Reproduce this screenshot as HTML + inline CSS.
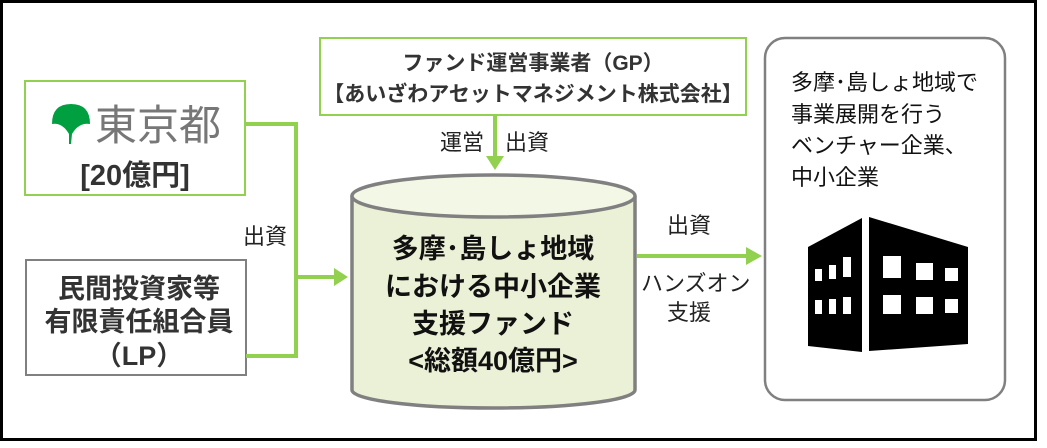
<!DOCTYPE html>
<html><head><meta charset="utf-8"><style>
body{margin:0;background:#fff}
svg text{font-family:"Liberation Sans","Noto Sans CJK JP",sans-serif}
</style></head><body>
<svg width="1047" height="443" viewBox="0 0 1047 443" xmlns="http://www.w3.org/2000/svg">
<rect x="1.5" y="1.5" width="1034" height="438" fill="#fff" stroke="#000" stroke-width="3"/>
<!-- Tokyo box -->
<rect x="25" y="81" width="220" height="114" fill="#fff" stroke="#92d050" stroke-width="2"/>
<path d="M52 124 Q52 104 71 104 Q90 104 90 124 Q79 122 72 134 L71 144 L69 144 L69 134 Q62 122 52 124Z" fill="#00a040"/>
<text x="95" y="140" font-size="42" fill="#777">東京都</text>
<text x="135" y="185" font-size="29" font-weight="bold" fill="#333" text-anchor="middle">[20億円]</text>
<!-- LP box -->
<rect x="26" y="260" width="220" height="115" fill="#fff" stroke="#808080" stroke-width="2"/>
<g font-size="27" font-weight="bold" fill="#333" text-anchor="middle">
<text x="139" y="298">民間投資家等</text>
<text x="139" y="331">有限責任組合員</text>
<text x="139" y="365">（LP）</text>
</g>
<!-- GP box -->
<rect x="320" y="38" width="426" height="77" fill="#fff" stroke="#92d050" stroke-width="2"/>
<g font-size="21" font-weight="bold" fill="#333" text-anchor="middle">
<text x="533" y="70">ファンド運営事業者（GP）</text>
<text x="533" y="101">【あいざわアセットマネジメント株式会社】</text>
</g>
<!-- connectors -->
<g stroke="#92d050" stroke-width="4" fill="none">
<polyline points="245,124 296,124 296,356 246,356"/>
<line x1="296" y1="277" x2="336" y2="277"/>
<line x1="495" y1="115" x2="495" y2="158"/>
<line x1="637" y1="256" x2="748" y2="256"/>
</g>
<g fill="#92d050">
<polygon points="334,268 348,277 334,286"/>
<polygon points="486,156 504,156 495,170"/>
<polygon points="746,247 762,256 746,265"/>
</g>
<g font-size="22" fill="#222">
<text x="243" y="244">出資</text>
<text x="440" y="150">運営</text>
<text x="505" y="150">出資</text>
<text x="667" y="233">出資</text>
<text x="641" y="291">ハンズオン</text>
<text x="667" y="320">支援</text>
</g>
<!-- cylinder -->
<path d="M352 196 L352 390 A141.5 18 0 0 0 635 390 L635 196" fill="#ebf1d6" stroke="#808080" stroke-width="3.5"/>
<ellipse cx="493.5" cy="196" rx="141.5" ry="21" fill="#f3f7e6" stroke="#808080" stroke-width="3.5"/>
<g font-size="27" font-weight="bold" fill="#111" text-anchor="middle">
<text x="493" y="258">多摩･島しょ地域</text>
<text x="493" y="296">における中小企業</text>
<text x="493" y="333">支援ファンド</text>
<text x="493" y="370">&lt;総額40億円&gt;</text>
</g>
<!-- right box -->
<rect x="765" y="38" width="240" height="362" rx="20" fill="#fff" stroke="#808080" stroke-width="2.5"/>
<g font-size="22" fill="#111">
<text x="791" y="90">多摩･島しょ地域で</text>
<text x="791" y="122">事業展開を行う</text>
<text x="791" y="153">ベンチャー企業、</text>
<text x="791" y="185">中小企業</text>
</g>
<!-- building -->
<polygon points="808,247 862,218 862,352 808,346" fill="#000"/>
<polygon points="869,217 968,247 968,344 869,351" fill="#000"/>
<g fill="#fff">
<rect x="815" y="269" width="7" height="12"/><rect x="829" y="265" width="7" height="14"/><rect x="843" y="257" width="8" height="20"/>
<rect x="815" y="300" width="7" height="14"/><rect x="829" y="299" width="7" height="15"/><rect x="843" y="297" width="8" height="17"/>
<rect x="883" y="256" width="18" height="22"/><rect x="916" y="263" width="17" height="17"/><rect x="945" y="268" width="13" height="13"/>
<rect x="883" y="295" width="18" height="19"/><rect x="916" y="297" width="17" height="17"/><rect x="945" y="299" width="13" height="14"/>
</g>
</svg>
</body></html>
